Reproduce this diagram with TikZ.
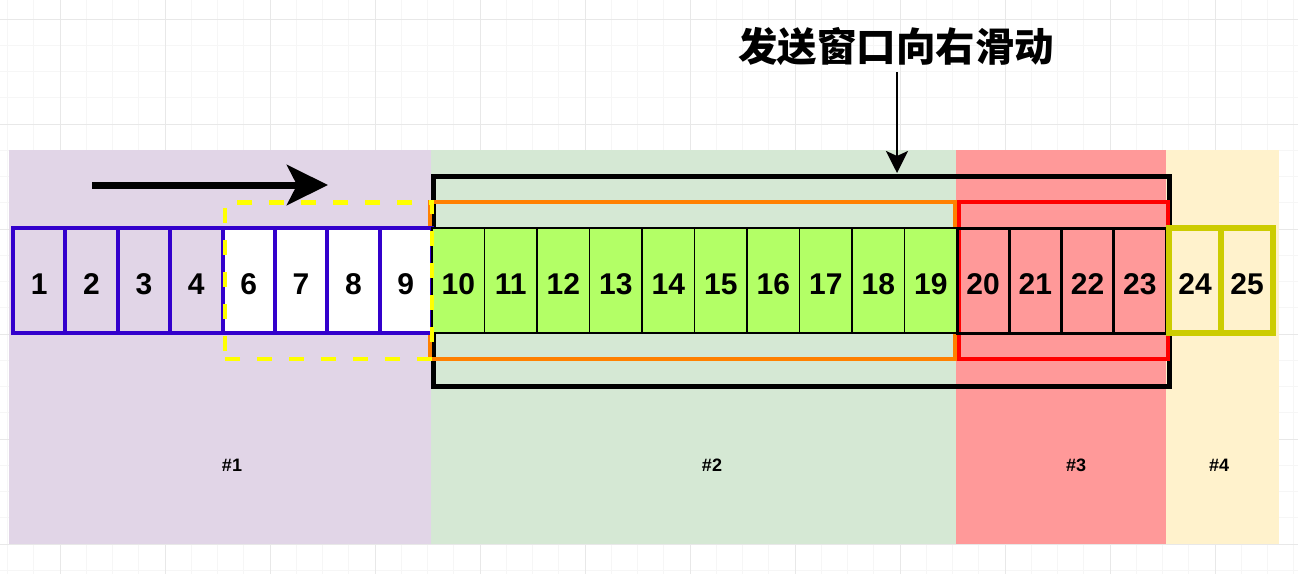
\documentclass[tikz,border=0pt]{standalone}
\usepackage{fontspec}
\setmainfont{Liberation Sans}
\newfontfamily\cjk{Noto Sans CJK SC}
\usetikzlibrary{arrows.meta}
\definecolor{bgA}{HTML}{E1D5E7}
\definecolor{bgB}{HTML}{D5E8D4}
\definecolor{bgC}{HTML}{FF9999}
\definecolor{bgD}{HTML}{FFF2CC}
\definecolor{cgreen}{HTML}{B3FF66}
\definecolor{cblue}{HTML}{3300CC}
\definecolor{corange}{HTML}{FF8000}
\definecolor{colive}{HTML}{CCCC00}
\definecolor{cyellow}{HTML}{FFFF00}
\definecolor{gmajor}{HTML}{E8E8E8}
\definecolor{gminor}{HTML}{F6F6F6}
\begin{document}
\begin{tikzpicture}[x=1pt,y=-1pt,
  cellbase/.style={minimum height=105pt, inner sep=0pt, anchor=center,
    text height=27pt, text depth=0pt,
    font=\fontsize{30}{30}\selectfont\bfseries},
  bluecell/.style={cellbase, minimum width=52.375pt, draw=cblue, line width=4pt},
  greencell/.style={cellbase, minimum width=52.5pt, draw=black, line width=1.5pt, fill=cgreen},
  redcell/.style={cellbase, minimum width=52.25pt, draw=black, line width=3pt},
  olivecell/.style={cellbase, minimum width=52pt, draw=colive, line width=6pt, fill=bgD},
  framebox/.style={inner sep=0pt, fill=none},
  lbl/.style={inner sep=0pt, font=\fontsize{18}{18}\selectfont\bfseries},
  gridmin/.style={draw=gminor, line width=0.8pt},
  gridmaj/.style={draw=gmajor, line width=1pt}
]
\useasboundingbox (0,0) rectangle (1298,574);
\fill[white] (0,0) rectangle (1298,574);
% faint grid
\foreach \k in {0,...,49} {\pgfmathsetmacro\gx{7.5+26.25*\k}\draw[gridmin] (\gx,0) -- (\gx,574);}
\foreach \k in {0,...,21} {\pgfmathsetmacro\gy{19+26.25*\k}\draw[gridmin] (0,\gy) -- (1298,\gy);}
\foreach \k in {0,...,12} {\pgfmathsetmacro\gx{60+105*\k}\draw[gridmaj] (\gx,0) -- (\gx,574);}
\foreach \k in {0,...,5} {\pgfmathsetmacro\gy{19+105*\k}\draw[gridmaj] (0,\gy) -- (1298,\gy);}
% background zones
\fill[bgA] (8.5,150) rectangle (431,544);
\fill[bgB] (431,150) rectangle (956,544);
\fill[bgC] (956,150) rectangle (1166,544);
\fill[bgD] (1166,150) rectangle (1279,544);
% zone labels
\node[lbl] (l1) at (232,465) {\#1};
\node[lbl] (l2) at (712,465) {\#2};
\node[lbl] (l3) at (1076,465) {\#3};
\node[lbl] (l4) at (1219,465) {\#4};
% window frames
\node[framebox, draw=black, line width=5pt, minimum width=736pt, minimum height=210pt] (win) at (801,281) {};
\node[framebox, draw=corange, line width=3.5pt, minimum width=525pt, minimum height=157pt] (sent) at (692.5,280.5) {};
\node[framebox, draw=red, line width=3.5pt, minimum width=209pt, minimum height=157pt] (usable) at (1063.5,280.5) {};
% cells
\foreach \t [count=\i from 0] in {1,2,3,4} {
  \pgfmathsetmacro\cx{13+52.375*(\i+0.5)}
  \node[bluecell] (c\t) at (\cx,280.5) {\t};
}
\foreach \t [count=\i from 4] in {6,7,8,9} {
  \pgfmathsetmacro\cx{13+52.375*(\i+0.5)}
  \node[bluecell, fill=white] (c\t) at (\cx,280.5) {\t};
}
\foreach \i in {0,...,9} {
  \pgfmathsetmacro\cx{432+52.5*(\i+0.5)}
  \pgfmathtruncatemacro\t{\i+10}
  \node[greencell] (c\t) at (\cx,280.5) {\t};
}
\foreach \i in {0,...,3} {
  \pgfmathsetmacro\cx{957+52.25*(\i+0.5)}
  \pgfmathtruncatemacro\t{\i+20}
  \node[redcell] (c\t) at (\cx,280.5) {\t};
}
\foreach \i in {0,1} {
  \pgfmathsetmacro\cx{1169+52*(\i+0.5)}
  \pgfmathtruncatemacro\t{\i+24}
  \node[olivecell] (c\t) at (\cx,280.5) {\t};
}
% dashed yellow frame
\node[framebox, draw=cyellow, line width=4.5pt, dash pattern=on 15pt off 17pt, minimum width=207pt, minimum height=156.5pt] (moved) at (328.5,280.75) {};
% direction arrow
\coordinate (hs) at (92,185);
\coordinate (he) at (328,185);
\draw[line width=7pt, -{Stealth[length=41pt, width=40pt, inset=10pt]}] (hs) -- (he);
% title and pointer
\node[inner sep=0pt, font=\cjk\bfseries\fontsize{39.5}{39.5}\selectfont] (title) at (896,47) {发送窗口向右滑动};
\coordinate (ps) at (897,72);
\coordinate (pe) at (897,173);
\draw[line width=2.5pt, -{Stealth[length=22pt, width=22pt, inset=5pt]}] (ps) -- (pe);
\end{tikzpicture}
\end{document}
